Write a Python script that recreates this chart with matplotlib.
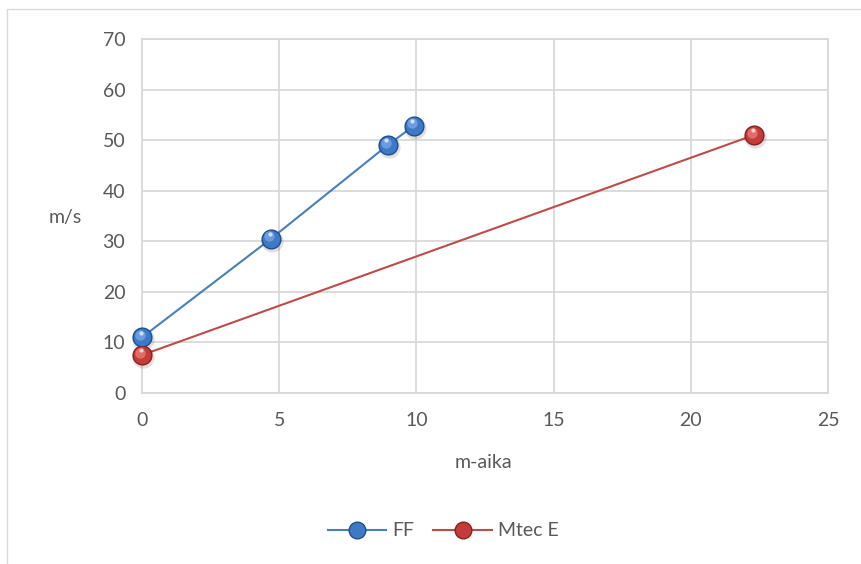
import matplotlib
matplotlib.use("Agg")
import matplotlib.pyplot as plt
import matplotlib.transforms as mtransforms
from matplotlib.lines import Line2D
from matplotlib.patches import Rectangle

plt.rcParams['font.family'] = ['Lato', 'DejaVu Sans']

# speed vs. time for the two series
ff_x = [0, 4.7, 8.95, 9.9]
ff_y = [11.0, 30.5, 49.0, 52.8]
mtec_x = [0, 22.3]
mtec_y = [7.5, 51.0]

series_names = ["FF", "Mtec E"]
x_ticks = [0, 5, 10, 15, 20, 25]
y_ticks = [0, 10, 20, 30, 40, 50, 60, 70]

text_col = "#595959"
grid_col = "#d9d9d9"

fig = plt.figure(figsize=(8.62, 5.64), dpi=100)
ax = fig.add_axes([142 / 862, 1 - 393 / 564, 686 / 862, 354 / 564])

# outer chart frame
fig.patches.append(Rectangle((7 / 862, -0.05), 1.0, 1 - 9 / 564 + 0.05,
                             transform=fig.transFigure, fill=False,
                             edgecolor="#d9d9d9", linewidth=1.0))


def sphere(ax, x, y, base, dark, light):
    # soft shadow, then shaded body and a highlight
    shadow = mtransforms.offset_copy(ax.transData, fig=fig, x=1.0, y=-1.5, units='points')
    ax.plot(x, y, 'o', ms=16, color="#000000", alpha=0.12, mec='none', transform=shadow,
            zorder=3, clip_on=False)
    ax.plot(x, y, 'o', ms=14.5, color=dark, mec='none', zorder=4, clip_on=False)
    ax.plot(x, y, 'o', ms=12.5, color=base, mec='none', zorder=5, clip_on=False)
    hl = mtransforms.offset_copy(ax.transData, fig=fig, x=-1.2, y=1.8, units='points')
    ax.plot(x, y, 'o', ms=7.5, color=light, mec='none', transform=hl, zorder=6, clip_on=False)
    hl2 = mtransforms.offset_copy(ax.transData, fig=fig, x=-1.0, y=3.5, units='points')
    ax.plot(x, y, 'o', ms=3, color="#ffffff", alpha=0.7, mec='none', transform=hl2,
            zorder=7, clip_on=False)


ax.plot(ff_x, ff_y, color="#4a7ebb", lw=1.5, zorder=2)
ax.plot(mtec_x, mtec_y, color="#be4b48", lw=1.5, zorder=2)
sphere(ax, ff_x, ff_y, "#3f78c4", "#1f4f8f", "#6b9be0")
sphere(ax, mtec_x, mtec_y, "#c43c3a", "#8c1f1d", "#e06b68")

ax.set_xlim(0, 25)
ax.set_ylim(0, 70)
ax.set_xticks(x_ticks)
ax.set_yticks(y_ticks)
ax.grid(True, color=grid_col, lw=1.3)
ax.set_axisbelow(True)
for s in ax.spines.values():
    s.set_color(grid_col)
    s.set_linewidth(1.3)
ax.tick_params(length=0, labelsize=14, labelcolor=text_col)
ax.tick_params(axis='x', pad=14)
ax.tick_params(axis='y', pad=12)

fig.text(65 / 862, 1 - 217 / 564, "m/s", ha='center', va='center', fontsize=14, color=text_col)
fig.text(483 / 862, 1 - 463 / 564, "m-aika", ha='center', va='center', fontsize=14, color=text_col)

handles = [
    Line2D([0], [0], color="#4a7ebb", lw=1.5, marker='o', ms=12,
           mfc="#3f78c4", mec="#1f4f8f"),
    Line2D([0], [0], color="#be4b48", lw=1.5, marker='o', ms=12,
           mfc="#c43c3a", mec="#8c1f1d"),
]
leg = fig.legend(handles, series_names, loc='center', bbox_to_anchor=(443 / 862, 1 - 531 / 564),
                 ncol=2, frameon=False, fontsize=14, handlelength=3.0, columnspacing=1.0,
                 handletextpad=0.3)
for t in leg.get_texts():
    t.set_color(text_col)

fig.savefig("out.png", dpi=100)
